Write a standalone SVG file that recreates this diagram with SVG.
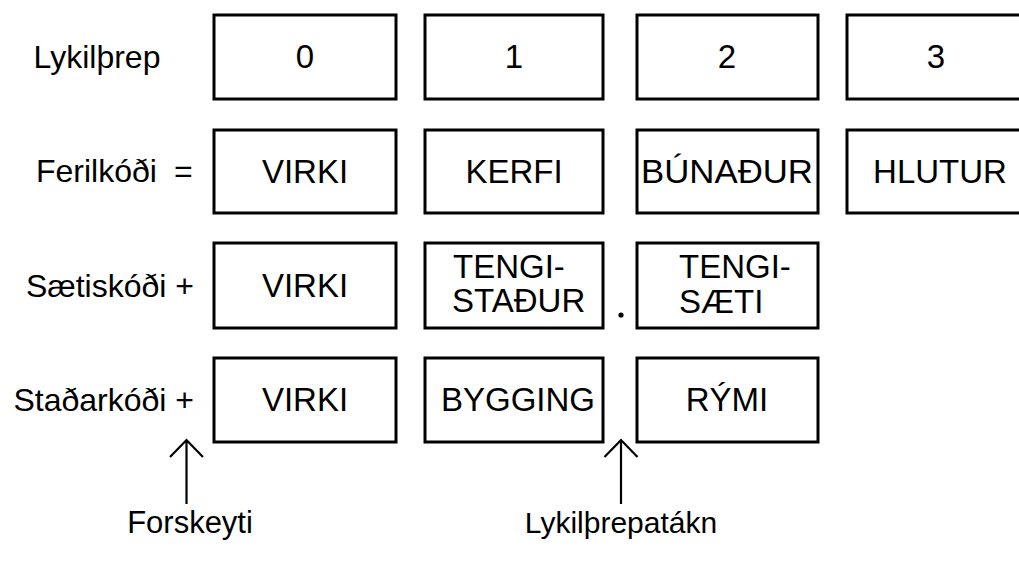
<svg xmlns="http://www.w3.org/2000/svg" width="1019" height="561" viewBox="0 0 1019 561">
<style>
.box{fill:#fff;stroke:#000;stroke-width:3}
.t{font-family:"Liberation Sans",Arial,sans-serif;font-size:33px;fill:#000}
.l{font-family:"Liberation Sans",Arial,sans-serif;font-size:32px;fill:#000}
.n{font-family:"Liberation Sans",Arial,sans-serif;font-size:31px;fill:#000}
.c{text-anchor:middle}
.e{text-anchor:end}
.ln{stroke:#000;stroke-width:2.2;fill:none}
</style>
<rect width="1019" height="561" fill="#fff"/>
<g id="labels">
<text class="l c" x="97" y="68">Lykilþrep</text>
<text class="l" x="36" y="182">Ferilkóði<tspan x="174">=</tspan></text>
<text class="l e" x="194" y="297">Sætiskóði +</text>
<text class="l e" x="194" y="411">Staðarkóði +</text>
</g>
<g id="row-lykilthrep">
<g id="k0"><rect class="box" x="214" y="15" width="182" height="84"/><text class="t c" x="305" y="68">0</text></g>
<g id="k1"><rect class="box" x="425" y="15" width="178" height="84"/><text class="t c" x="514" y="68">1</text></g>
<g id="k2"><rect class="box" x="637" y="15" width="181" height="84"/><text class="t c" x="727" y="68">2</text></g>
<g id="k3"><rect class="box" x="847" y="15" width="190" height="84"/><text class="t c" x="936" y="68">3</text></g>
</g>
<g id="row-ferilkodi">
<g id="f0"><rect class="box" x="214" y="130" width="182" height="83"/><text class="t c" x="305" y="183">VIRKI</text></g>
<g id="f1"><rect class="box" x="425" y="130" width="178" height="83"/><text class="t c" x="514" y="183">KERFI</text></g>
<g id="f2"><rect class="box" x="637" y="130" width="181" height="83"/><text class="t c" x="727" y="183" textLength="172" lengthAdjust="spacingAndGlyphs">BÚNAÐUR</text></g>
<g id="f3"><rect class="box" x="847" y="130" width="190" height="83"/><text class="t c" x="940" y="183">HLUTUR</text></g>
</g>
<g id="row-saetiskodi">
<g id="s0"><rect class="box" x="214" y="243" width="182" height="85"/><text class="t c" x="305" y="297">VIRKI</text></g>
<g id="s1"><rect class="box" x="425" y="243" width="178" height="85"/><text class="t" x="453" y="278">TENGI-</text><text class="t" x="452" y="312">STAÐUR</text></g>
<g id="s2"><rect class="box" x="637" y="243" width="181" height="85"/><text class="t" x="679" y="278">TENGI-</text><text class="t" x="679" y="313">SÆTI</text></g>
<circle id="dot" cx="621" cy="315" r="2.6" fill="#000"/>
</g>
<g id="row-stadarkodi">
<g id="d0"><rect class="box" x="214" y="358" width="182" height="84"/><text class="t c" x="305" y="411">VIRKI</text></g>
<g id="d1"><rect class="box" x="425" y="358" width="178" height="84"/><text class="t c" x="518" y="411">BYGGING</text></g>
<g id="d2"><rect class="box" x="637" y="358" width="181" height="84"/><text class="t c" x="727" y="411">RÝMI</text></g>
</g>
<g id="connectors">
<path class="ln" d="M186.5 504V440M170 457L186.5 440L203 457"/>
<path class="ln" d="M621 504V440M604.5 457L621 440L637.5 457"/>
</g>
<g id="notes">
<text class="n c" x="190" y="533">Forskeyti</text>
<text class="n c" x="621" y="533" style="font-size:30px">Lykilþrepatákn</text>
</g>
</svg>
